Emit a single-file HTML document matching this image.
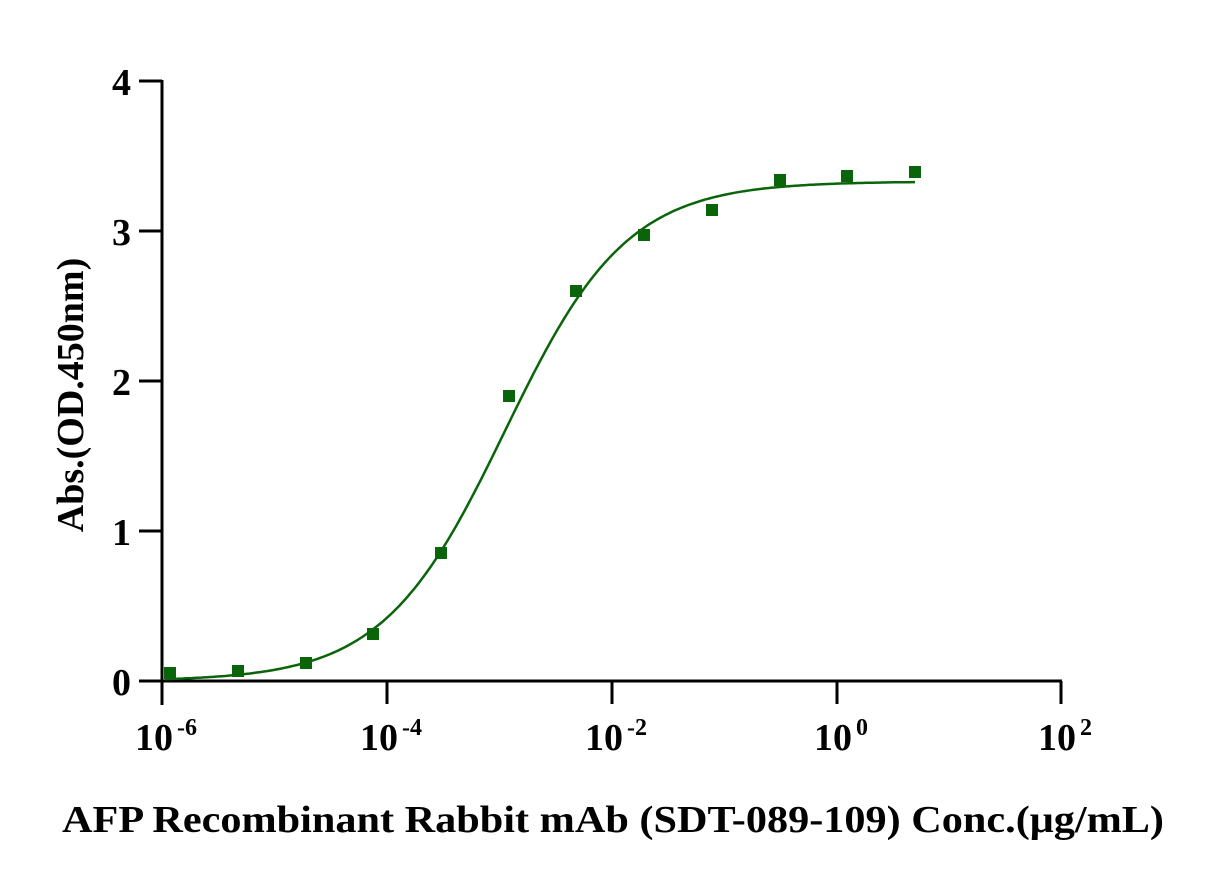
<!DOCTYPE html>
<html><head><style>body{margin:0;background:#fff}svg text{font-family:"Liberation Serif",serif;font-weight:bold;fill:#000}</style></head>
<body>
<svg id="s" width="1209" height="883" viewBox="0 0 1209 883">
<g stroke="#000" stroke-width="3" fill="none">
<line x1="162" y1="80" x2="162" y2="705"/>
<line x1="139" y1="681" x2="1062" y2="681"/>
<line x1="139" y1="81" x2="162" y2="81"/>
<line x1="139" y1="231" x2="162" y2="231"/>
<line x1="139" y1="381" x2="162" y2="381"/>
<line x1="139" y1="531" x2="162" y2="531"/>
<line x1="387" y1="681" x2="387" y2="704"/>
<line x1="612" y1="681" x2="612" y2="704"/>
<line x1="837" y1="681" x2="837" y2="704"/>
<line x1="1061" y1="681" x2="1061" y2="704"/>
</g>
<g font-size="38" text-anchor="end">
<text x="131" y="95">4</text><text x="131" y="245">3</text><text x="131" y="395">2</text><text x="131" y="545">1</text><text x="131" y="695">0</text>
</g>
<g font-size="38" text-anchor="middle">
<text x="166" y="750">10<tspan font-size="24" dx="4" dy="-15">-6</tspan></text>
<text x="391" y="750">10<tspan font-size="24" dx="4" dy="-15">-4</tspan></text>
<text x="616" y="750">10<tspan font-size="24" dx="4" dy="-15">-2</tspan></text>
<text x="841" y="750">10<tspan font-size="24" dx="4" dy="-15">0</tspan></text>
<text x="1065" y="750">10<tspan font-size="24" dx="4" dy="-15">2</tspan></text>
</g>
<text x="613" y="832" font-size="38" text-anchor="middle" textLength="1102" lengthAdjust="spacingAndGlyphs">AFP Recombinant Rabbit mAb (SDT-089-109) Conc.(μg/mL)</text>
<text transform="translate(83,395) rotate(-90)" font-size="38" text-anchor="middle">Abs.(OD.450nm)</text>
<path id="c" fill="none" stroke="#0a640a" stroke-width="2.5"/>
<g id="m" fill="#0a640a"></g>
</svg>
<script>
var pts=[[170,673],[238,671],[306,663],[373,634],[441,553],[509,396],[576,291],[644,235],[712,210],[780,180],[847,176],[915,172]];
var g=document.getElementById('m'),h='';
pts.forEach(function(p){h+='<rect x="'+(p[0]-6)+'" y="'+(p[1]-6)+'" width="12" height="12"/>';});
g.innerHTML=h;
var d='';
for(var x=165;x<=915;x+=3){var l=-6+(x-162)/112.4;var y=3.33/(1+Math.pow(10,(-2.95-l)*0.8));d+=(d?'L':'M')+x+','+(681-150*y).toFixed(1);}
document.getElementById('c').setAttribute('d',d);
</script>
</body></html>
